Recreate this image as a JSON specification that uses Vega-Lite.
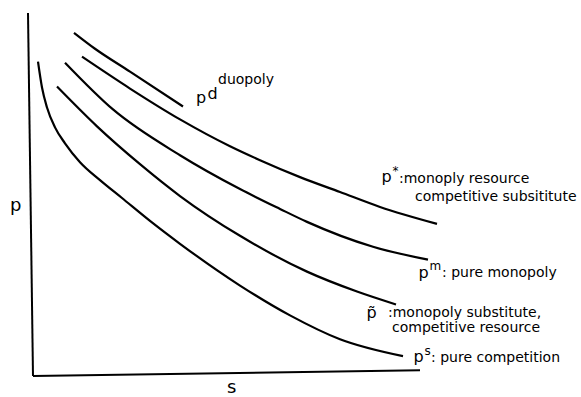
{
  "$schema": "https://vega.github.io/schema/vega-lite/v6.json",
  "width": 581,
  "height": 397,
  "padding": 0,
  "autosize": {"type": "fit", "contains": "padding"},
  "background": "white",
  "config": {"view": {"stroke": null}},
  "datasets": {
    "curves": [
      {"series": "pd", "s": 41, "p": 345},
      {"series": "pd", "s": 62, "p": 329},
      {"series": "pd", "s": 97, "p": 306},
      {"series": "pd", "s": 150, "p": 271},
      {"series": "pstar", "s": 49, "p": 321},
      {"series": "pstar", "s": 97, "p": 289},
      {"series": "pstar", "s": 147, "p": 258},
      {"series": "pstar", "s": 197, "p": 231},
      {"series": "pstar", "s": 227, "p": 217},
      {"series": "pstar", "s": 267, "p": 200},
      {"series": "pstar", "s": 307, "p": 185},
      {"series": "pstar", "s": 347, "p": 170},
      {"series": "pstar", "s": 404, "p": 153},
      {"series": "pm", "s": 32, "p": 315},
      {"series": "pm", "s": 80, "p": 268},
      {"series": "pm", "s": 147, "p": 222},
      {"series": "pm", "s": 207, "p": 188},
      {"series": "pm", "s": 247, "p": 168},
      {"series": "pm", "s": 274, "p": 155},
      {"series": "pm", "s": 340, "p": 130},
      {"series": "pm", "s": 395, "p": 117},
      {"series": "ptilde", "s": 24, "p": 291},
      {"series": "ptilde", "s": 64, "p": 251},
      {"series": "ptilde", "s": 107, "p": 213},
      {"series": "ptilde", "s": 147, "p": 181},
      {"series": "ptilde", "s": 207, "p": 141},
      {"series": "ptilde", "s": 274, "p": 105},
      {"series": "ptilde", "s": 324, "p": 85},
      {"series": "ptilde", "s": 363, "p": 72},
      {"series": "ps", "s": 5, "p": 316},
      {"series": "ps", "s": 9, "p": 290},
      {"series": "ps", "s": 14, "p": 270},
      {"series": "ps", "s": 22, "p": 250},
      {"series": "ps", "s": 32, "p": 234},
      {"series": "ps", "s": 47, "p": 215},
      {"series": "ps", "s": 67, "p": 197},
      {"series": "ps", "s": 89, "p": 179},
      {"series": "ps", "s": 117, "p": 156},
      {"series": "ps", "s": 147, "p": 133},
      {"series": "ps", "s": 207, "p": 91},
      {"series": "ps", "s": 257, "p": 61},
      {"series": "ps", "s": 307, "p": 37},
      {"series": "ps", "s": 370, "p": 20}
    ],
    "axes": [
      {"axis": "p", "s": -5, "p": 365},
      {"axis": "p", "s": 0, "p": 0},
      {"axis": "s", "s": 0, "p": 0},
      {"axis": "s", "s": 387, "p": 6}
    ],
    "labels": [
      {"kind": "axis", "text": "p", "s": -23, "p": 166},
      {"kind": "axis", "text": "s", "s": 194, "p": -17},
      {"kind": "big", "text": "p", "s": 163, "p": 274},
      {"kind": "big", "text": "d", "s": 174.5, "p": 279},
      {"kind": "main", "text": "duopoly", "s": 185, "p": 294},
      {"kind": "big", "text": "p", "s": 348.5, "p": 195},
      {"kind": "sup", "text": "*", "s": 359.5, "p": 202},
      {"kind": "main", "text": ":monoply resource", "s": 366, "p": 194},
      {"kind": "main", "text": "competitive subsititute", "s": 382, "p": 176},
      {"kind": "big", "text": "p", "s": 385.5, "p": 99},
      {"kind": "sup", "text": "m", "s": 396.5, "p": 107},
      {"kind": "main", "text": ": pure monopoly", "s": 409, "p": 100},
      {"kind": "big", "text": "p̃", "s": 333.5, "p": 58},
      {"kind": "main", "text": ":monopoly  substitute,", "s": 355, "p": 59},
      {"kind": "main", "text": "competitive   resource", "s": 359, "p": 44},
      {"kind": "big", "text": "p", "s": 380.5, "p": 14},
      {"kind": "sup", "text": "s", "s": 391.5, "p": 21},
      {"kind": "main", "text": ": pure competition", "s": 398, "p": 14}
    ]
  },
  "layer": [
    {
      "data": {"name": "axes"},
      "mark": {"type": "line", "color": "black", "strokeWidth": 2, "clip": false},
      "encoding": {
        "x": {"field": "s", "type": "quantitative", "scale": {"domain": [-33, 548], "nice": false, "zero": false}, "axis": null},
        "y": {"field": "p", "type": "quantitative", "scale": {"domain": [-19, 378], "nice": false, "zero": false}, "axis": null},
        "detail": {"field": "axis"}
      }
    },
    {
      "data": {"name": "curves"},
      "mark": {"type": "line", "color": "black", "strokeWidth": 2.2, "interpolate": "monotone", "clip": false},
      "encoding": {
        "x": {"field": "s", "type": "quantitative"},
        "y": {"field": "p", "type": "quantitative"},
        "detail": {"field": "series"}
      }
    },
    {
      "data": {"name": "labels"},
      "transform": [{"filter": "datum.kind === 'main'"}],
      "mark": {"type": "text", "align": "left", "baseline": "alphabetic", "font": "DejaVu Sans", "fontSize": 14, "color": "black"},
      "encoding": {
        "x": {"field": "s", "type": "quantitative"},
        "y": {"field": "p", "type": "quantitative"},
        "text": {"field": "text"}
      }
    },
    {
      "data": {"name": "labels"},
      "transform": [{"filter": "datum.kind === 'big'"}],
      "mark": {"type": "text", "align": "left", "baseline": "alphabetic", "font": "DejaVu Sans", "fontSize": 16, "color": "black"},
      "encoding": {
        "x": {"field": "s", "type": "quantitative"},
        "y": {"field": "p", "type": "quantitative"},
        "text": {"field": "text"}
      }
    },
    {
      "data": {"name": "labels"},
      "transform": [{"filter": "datum.kind === 'sup'"}],
      "mark": {"type": "text", "align": "left", "baseline": "alphabetic", "font": "DejaVu Sans", "fontSize": 12, "color": "black"},
      "encoding": {
        "x": {"field": "s", "type": "quantitative"},
        "y": {"field": "p", "type": "quantitative"},
        "text": {"field": "text"}
      }
    },
    {
      "data": {"name": "labels"},
      "transform": [{"filter": "datum.kind === 'axis'"}],
      "mark": {"type": "text", "align": "left", "baseline": "alphabetic", "font": "DejaVu Sans", "fontSize": 18, "color": "black"},
      "encoding": {
        "x": {"field": "s", "type": "quantitative"},
        "y": {"field": "p", "type": "quantitative"},
        "text": {"field": "text"}
      }
    }
  ]
}
